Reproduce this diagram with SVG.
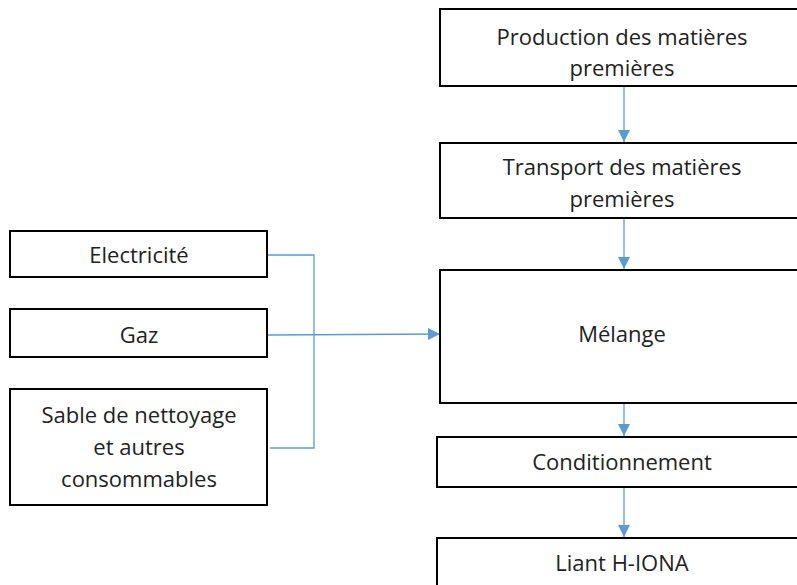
<svg xmlns="http://www.w3.org/2000/svg" width="797" height="585" viewBox="0 0 797 585">
<style>
.box{fill:#fff;stroke:#000;stroke-width:2}
.t{font-family:"Open Sans","Liberation Sans",sans-serif;font-size:22px;fill:#222;text-anchor:middle}
.c{fill:none;stroke:#5b9bd5;stroke-width:1.3}
</style>
<defs>
<marker id="ah" markerWidth="12" markerHeight="12" refX="12" refY="6" orient="auto" markerUnits="userSpaceOnUse">
<path d="M0,0 L12,6 L0,12 Z" fill="#5b9bd5"/>
</marker>
</defs>
<rect width="797" height="585" fill="#fff"/>
<g id="connectors">
<line class="c" x1="624" y1="86" x2="624" y2="142" marker-end="url(#ah)"/>
<line class="c" x1="624" y1="218" x2="624" y2="269" marker-end="url(#ah)"/>
<line class="c" x1="624" y1="403" x2="624" y2="436" marker-end="url(#ah)"/>
<line class="c" x1="624" y1="487" x2="624" y2="537" marker-end="url(#ah)"/>
<polyline class="c" points="268,255 314,255 314,448 270,448"/>
<line class="c" x1="268" y1="335" x2="440" y2="334" marker-end="url(#ah)"/>
</g>
<g id="n-production"><rect class="box" x="440" y="9" width="370" height="77"/><text class="t" x="622" y="45">Production des matières</text><text class="t" x="622" y="76">premières</text></g>
<g id="n-transport"><rect class="box" x="440" y="143" width="370" height="75"/><text class="t" x="622" y="175">Transport des matières</text><text class="t" x="622" y="207">premières</text></g>
<g id="n-melange"><rect class="box" x="440" y="270" width="370" height="133"/><text class="t" x="622" y="342">Mélange</text></g>
<g id="n-cond"><rect class="box" x="437" y="437" width="373" height="50"/><text class="t" x="622" y="470">Conditionnement</text></g>
<g id="n-liant"><rect class="box" x="437" y="538" width="373" height="60"/><text class="t" x="622" y="571">Liant H-IONA</text></g>
<g id="n-elec"><rect class="box" x="10" y="231" width="257" height="46"/><text class="t" x="139" y="263">Electricité</text></g>
<g id="n-gaz"><rect class="box" x="10" y="309" width="257" height="48"/><text class="t" x="139" y="343">Gaz</text></g>
<g id="n-sable"><rect class="box" x="10" y="389" width="257" height="116"/><text class="t" x="139" y="423">Sable de nettoyage</text><text class="t" x="139" y="455">et autres</text><text class="t" x="139" y="487">consommables</text></g>
</svg>
